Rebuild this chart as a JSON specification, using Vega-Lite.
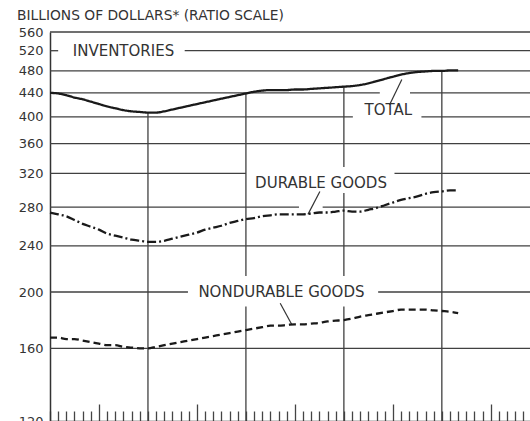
{
  "$schema": "https://vega.github.io/schema/vega-lite/v6.json",
  "width": 480,
  "height": 389,
  "autosize": "none",
  "padding": {"left": 50, "top": 32, "right": 0, "bottom": 0},
  "background": "white",
  "config": {"view": {"stroke": null}, "font": "DejaVu Sans"},
  "title": {"text": "BILLIONS OF DOLLARS* (RATIO SCALE)", "anchor": "start", "frame": "group", "dx": -33, "offset": 3, "fontSize": 13.8, "fontWeight": "normal", "color": "#333", "font": "DejaVu Sans"},
  "datasets": {
    "hgrid": [
      {"v": 560, "m": 0, "m2": 58.8},
      {"v": 520, "m": 0, "m2": 1.0}, {"v": 520, "m": 16.5, "m2": 58.8},
      {"v": 480, "m": 0, "m2": 58.8},
      {"v": 440, "m": 0, "m2": 40.4}, {"v": 440, "m": 44.1, "m2": 58.8},
      {"v": 400, "m": 0, "m2": 37.1}, {"v": 400, "m": 45.5, "m2": 58.8},
      {"v": 360, "m": 0, "m2": 58.8},
      {"v": 320, "m": 0, "m2": 24}, {"v": 320, "m": 42.2, "m2": 58.8},
      {"v": 280, "m": 0, "m2": 30.5}, {"v": 280, "m": 33.4, "m2": 58.8},
      {"v": 240, "m": 0, "m2": 58.8},
      {"v": 200, "m": 0, "m2": 16.9}, {"v": 200, "m": 40.2, "m2": 58.8},
      {"v": 160, "m": 0, "m2": 58.8}
    ],
    "vgrid": [
      {"m": 12, "v": 120, "v2": 407},
      {"m": 24, "v": 120, "v2": 188.8}, {"m": 24, "v": 213, "v2": 439},
      {"m": 36, "v": 120, "v2": 188.8}, {"m": 36, "v": 213, "v2": 296}, {"m": 36, "v": 328, "v2": 452},
      {"m": 48, "v": 120, "v2": 480}
    ],
    "arrows": [
      {"m": 41.6, "v": 420, "m2": 43.1, "v2": 464},
      {"m": 33.06, "v": 297.8, "m2": 31.6, "v2": 272},
      {"m": 28.2, "v": 191.3, "m2": 29.6, "v2": 176}
    ],
    "labels": [
      {"m": 9.0, "v": 520, "label": "INVENTORIES"},
      {"m": 41.45, "v": 411, "label": "TOTAL"},
      {"m": 33.2, "v": 308, "label": "DURABLE GOODS"},
      {"m": 28.35, "v": 200, "label": "NONDURABLE GOODS"}
    ],
    "series": [
      {"series": "Total", "m": 0, "v": 440}, {"series": "Total", "m": 1, "v": 439}, {"series": "Total", "m": 2, "v": 436}, {"series": "Total", "m": 3, "v": 432}, {"series": "Total", "m": 4, "v": 429}, {"series": "Total", "m": 5, "v": 425}, {"series": "Total", "m": 6, "v": 421}, {"series": "Total", "m": 7, "v": 417}, {"series": "Total", "m": 8, "v": 414}, {"series": "Total", "m": 9, "v": 411}, {"series": "Total", "m": 10, "v": 409}, {"series": "Total", "m": 11, "v": 408}, {"series": "Total", "m": 12, "v": 407}, {"series": "Total", "m": 13, "v": 407}, {"series": "Total", "m": 14, "v": 409}, {"series": "Total", "m": 15, "v": 412}, {"series": "Total", "m": 16, "v": 415}, {"series": "Total", "m": 17, "v": 418}, {"series": "Total", "m": 18, "v": 421}, {"series": "Total", "m": 19, "v": 424}, {"series": "Total", "m": 20, "v": 427}, {"series": "Total", "m": 21, "v": 430}, {"series": "Total", "m": 22, "v": 433}, {"series": "Total", "m": 23, "v": 436}, {"series": "Total", "m": 24, "v": 439}, {"series": "Total", "m": 25, "v": 442}, {"series": "Total", "m": 26, "v": 444}, {"series": "Total", "m": 27, "v": 445}, {"series": "Total", "m": 28, "v": 445}, {"series": "Total", "m": 29, "v": 445}, {"series": "Total", "m": 30, "v": 446}, {"series": "Total", "m": 31, "v": 446}, {"series": "Total", "m": 32, "v": 447}, {"series": "Total", "m": 33, "v": 448}, {"series": "Total", "m": 34, "v": 449}, {"series": "Total", "m": 35, "v": 450}, {"series": "Total", "m": 36, "v": 451}, {"series": "Total", "m": 37, "v": 452}, {"series": "Total", "m": 38, "v": 454}, {"series": "Total", "m": 39, "v": 457}, {"series": "Total", "m": 40, "v": 461}, {"series": "Total", "m": 41, "v": 465}, {"series": "Total", "m": 42, "v": 469}, {"series": "Total", "m": 43, "v": 473}, {"series": "Total", "m": 44, "v": 476}, {"series": "Total", "m": 45, "v": 478}, {"series": "Total", "m": 46, "v": 479}, {"series": "Total", "m": 47, "v": 480}, {"series": "Total", "m": 48, "v": 480}, {"series": "Total", "m": 49, "v": 481}, {"series": "Total", "m": 50, "v": 481},
      {"series": "Durable goods", "m": 0, "v": 274}, {"series": "Durable goods", "m": 1, "v": 272}, {"series": "Durable goods", "m": 2, "v": 270}, {"series": "Durable goods", "m": 3, "v": 266}, {"series": "Durable goods", "m": 4, "v": 262}, {"series": "Durable goods", "m": 5, "v": 259}, {"series": "Durable goods", "m": 6, "v": 256}, {"series": "Durable goods", "m": 7, "v": 252}, {"series": "Durable goods", "m": 8, "v": 250}, {"series": "Durable goods", "m": 9, "v": 248}, {"series": "Durable goods", "m": 10, "v": 246}, {"series": "Durable goods", "m": 11, "v": 245}, {"series": "Durable goods", "m": 12, "v": 244}, {"series": "Durable goods", "m": 13, "v": 244}, {"series": "Durable goods", "m": 14, "v": 245}, {"series": "Durable goods", "m": 15, "v": 247}, {"series": "Durable goods", "m": 16, "v": 249}, {"series": "Durable goods", "m": 17, "v": 251}, {"series": "Durable goods", "m": 18, "v": 253}, {"series": "Durable goods", "m": 19, "v": 256}, {"series": "Durable goods", "m": 20, "v": 258}, {"series": "Durable goods", "m": 21, "v": 260}, {"series": "Durable goods", "m": 22, "v": 263}, {"series": "Durable goods", "m": 23, "v": 265}, {"series": "Durable goods", "m": 24, "v": 267}, {"series": "Durable goods", "m": 25, "v": 268}, {"series": "Durable goods", "m": 26, "v": 270}, {"series": "Durable goods", "m": 27, "v": 271}, {"series": "Durable goods", "m": 28, "v": 272}, {"series": "Durable goods", "m": 29, "v": 272}, {"series": "Durable goods", "m": 30, "v": 272}, {"series": "Durable goods", "m": 31, "v": 272}, {"series": "Durable goods", "m": 32, "v": 273}, {"series": "Durable goods", "m": 33, "v": 274}, {"series": "Durable goods", "m": 34, "v": 274}, {"series": "Durable goods", "m": 35, "v": 275}, {"series": "Durable goods", "m": 36, "v": 276}, {"series": "Durable goods", "m": 37, "v": 275}, {"series": "Durable goods", "m": 38, "v": 275}, {"series": "Durable goods", "m": 39, "v": 277}, {"series": "Durable goods", "m": 40, "v": 279}, {"series": "Durable goods", "m": 41, "v": 282}, {"series": "Durable goods", "m": 42, "v": 285}, {"series": "Durable goods", "m": 43, "v": 288}, {"series": "Durable goods", "m": 44, "v": 290}, {"series": "Durable goods", "m": 45, "v": 292}, {"series": "Durable goods", "m": 46, "v": 295}, {"series": "Durable goods", "m": 47, "v": 297}, {"series": "Durable goods", "m": 48, "v": 298}, {"series": "Durable goods", "m": 49, "v": 299}, {"series": "Durable goods", "m": 50, "v": 299},
      {"series": "Nondurable goods", "m": 0, "v": 167}, {"series": "Nondurable goods", "m": 1, "v": 167}, {"series": "Nondurable goods", "m": 2, "v": 166}, {"series": "Nondurable goods", "m": 3, "v": 166}, {"series": "Nondurable goods", "m": 4, "v": 165}, {"series": "Nondurable goods", "m": 5, "v": 164}, {"series": "Nondurable goods", "m": 6, "v": 163}, {"series": "Nondurable goods", "m": 7, "v": 162}, {"series": "Nondurable goods", "m": 8, "v": 162}, {"series": "Nondurable goods", "m": 9, "v": 161}, {"series": "Nondurable goods", "m": 10, "v": 160.5}, {"series": "Nondurable goods", "m": 11, "v": 160}, {"series": "Nondurable goods", "m": 12, "v": 160}, {"series": "Nondurable goods", "m": 13, "v": 161}, {"series": "Nondurable goods", "m": 14, "v": 162}, {"series": "Nondurable goods", "m": 15, "v": 163}, {"series": "Nondurable goods", "m": 16, "v": 164}, {"series": "Nondurable goods", "m": 17, "v": 165}, {"series": "Nondurable goods", "m": 18, "v": 166}, {"series": "Nondurable goods", "m": 19, "v": 167}, {"series": "Nondurable goods", "m": 20, "v": 168}, {"series": "Nondurable goods", "m": 21, "v": 169}, {"series": "Nondurable goods", "m": 22, "v": 170}, {"series": "Nondurable goods", "m": 23, "v": 171}, {"series": "Nondurable goods", "m": 24, "v": 172}, {"series": "Nondurable goods", "m": 25, "v": 173}, {"series": "Nondurable goods", "m": 26, "v": 174}, {"series": "Nondurable goods", "m": 27, "v": 175}, {"series": "Nondurable goods", "m": 28, "v": 175}, {"series": "Nondurable goods", "m": 29, "v": 175.5}, {"series": "Nondurable goods", "m": 30, "v": 176}, {"series": "Nondurable goods", "m": 31, "v": 176}, {"series": "Nondurable goods", "m": 32, "v": 176.5}, {"series": "Nondurable goods", "m": 33, "v": 177}, {"series": "Nondurable goods", "m": 34, "v": 178}, {"series": "Nondurable goods", "m": 35, "v": 178.5}, {"series": "Nondurable goods", "m": 36, "v": 179}, {"series": "Nondurable goods", "m": 37, "v": 180}, {"series": "Nondurable goods", "m": 38, "v": 181.5}, {"series": "Nondurable goods", "m": 39, "v": 182.5}, {"series": "Nondurable goods", "m": 40, "v": 183.5}, {"series": "Nondurable goods", "m": 41, "v": 184.5}, {"series": "Nondurable goods", "m": 42, "v": 185.5}, {"series": "Nondurable goods", "m": 43, "v": 186.5}, {"series": "Nondurable goods", "m": 44, "v": 186.5}, {"series": "Nondurable goods", "m": 45, "v": 186.5}, {"series": "Nondurable goods", "m": 46, "v": 186.5}, {"series": "Nondurable goods", "m": 47, "v": 186}, {"series": "Nondurable goods", "m": 48, "v": 185.5}, {"series": "Nondurable goods", "m": 49, "v": 185}, {"series": "Nondurable goods", "m": 50, "v": 184}
    ]
  },
  "encoding": {
    "x": {"field": "m", "type": "quantitative", "scale": {"domain": [0, 58.8], "nice": false, "zero": false},
      "axis": {"title": null, "labels": false, "grid": false, "values": [0,1,2,3,4,5,6,7,8,9,10,11,12,13,14,15,16,17,18,19,20,21,22,23,24,25,26,27,28,29,30,31,32,33,34,35,36,37,38,39,40,41,42,43,44,45,46,47,48,49,50,51,52,53,54,55,56,57,58],
        "domainColor": "#333", "domainWidth": 1.5, "tickColor": "#444", "tickWidth": 1.3,
        "tickSize": {"condition": {"test": "datum.value % 12 === 6", "value": -17}, "value": -10}}},
    "y": {"field": "v", "type": "quantitative", "scale": {"type": "log", "domain": [120, 560], "nice": false},
      "axis": {"title": null, "grid": false, "ticks": false, "values": [120,160,200,240,280,320,360,400,440,480,520,560], "format": "d",
        "labelPadding": 7, "labelFontSize": 13, "labelColor": "#333", "labelFont": "DejaVu Sans", "labelOverlap": false, "labelFlush": false, "labelBound": false,
        "domainColor": "#333", "domainWidth": 1.5}}
  },
  "layer": [
    {"data": {"name": "hgrid"}, "mark": {"type": "rule", "color": "#404040", "strokeWidth": 1.3}, "encoding": {"x2": {"field": "m2"}}},
    {"data": {"name": "vgrid"}, "mark": {"type": "rule", "color": "#404040", "strokeWidth": 1.3}, "encoding": {"y2": {"field": "v2"}}},
    {"data": {"name": "arrows"}, "mark": {"type": "rule", "color": "#333", "strokeWidth": 1.2}, "encoding": {"x2": {"field": "m2"}, "y2": {"field": "v2"}}},
    {"data": {"name": "series"}, "mark": {"type": "line", "color": "#1a1a1a", "strokeWidth": 2.3, "interpolate": "monotone"},
      "encoding": {"detail": {"field": "series"}, "strokeDash": {"field": "series", "type": "nominal", "legend": null,
        "scale": {"domain": ["Total", "Durable goods", "Nondurable goods"], "range": [[1, 0], [9, 3, 2, 3], [7, 4]]}}}},
    {"data": {"name": "labels"}, "mark": {"type": "text", "font": "DejaVu Sans", "fontSize": 15, "color": "#333", "align": "center", "baseline": "middle"},
      "encoding": {"text": {"field": "label"}}}
  ]
}
